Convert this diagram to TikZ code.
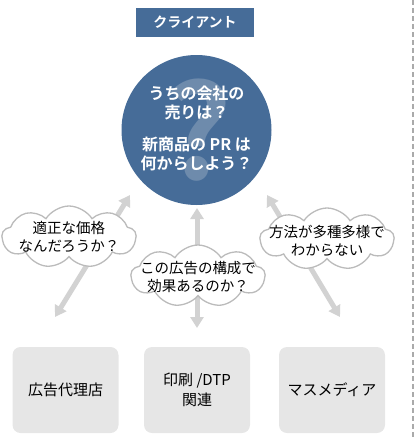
\documentclass[tikz,border=0pt]{standalone}
\usepackage{fontspec}
\setmainfont{Noto Sans CJK JP}[BoldFont={Noto Sans CJK JP Bold}]
\usetikzlibrary{shapes.symbols,arrows.meta}
\definecolor{cblue}{HTML}{466C98}
\definecolor{qmark}{HTML}{6E8BAC}
\definecolor{arrowgray}{HTML}{D2D2D2}
\definecolor{cloudline}{HTML}{BBBBBB}
\definecolor{boxfill}{HTML}{E6E6E6}
\definecolor{dashgray}{HTML}{AAAAAA}
\tikzset{
  bigarrow/.style={arrowgray, line width=5pt,
    {Triangle[width=13pt,length=11pt]}-{Triangle[width=13pt,length=11pt]}},
  thought/.style={cloud, cloud puffs=9, cloud puff arc=115, aspect=2.1, draw=cloudline, line width=1.3pt, fill=white, inner sep=0pt, minimum width=134pt, minimum height=62pt},
  thoughttext/.style={align=center, font=\fontsize{14.5}{18}\selectfont, text=black},
  target/.style={rectangle, rounded corners=8pt, fill=boxfill, minimum width=106pt, minimum height=86pt, align=center, font=\fontsize{15}{20}\selectfont},
}
\begin{document}
\begin{tikzpicture}[x=1pt,y=-1pt]
\useasboundingbox (0,0) rectangle (415,440);
% dashed border line
\coordinate (dtop) at (413,0);
\coordinate (dbot) at (413,440);
\draw[dashgray, line width=2pt, dash pattern=on 5pt off 3pt] (dtop) -- (dbot);
% title
\node[fill=cblue, minimum width=118pt, minimum height=29pt, inner sep=0pt, text=white, font=\bfseries\fontsize{14}{16}\selectfont] (title) at (195,22.5) {クライアント};
% client circle
\node[circle, fill=cblue, minimum size=150pt, inner sep=0pt] (client) at (196.5,130) {};
\node[text=qmark, font=\bfseries\fontsize{130}{130}\selectfont, inner sep=0pt] (qm) at (199,130) {?};
\node[text=white, align=center, font=\bfseries\fontsize{16}{19}\selectfont] (clienttext) at (196.5,128) {うちの会社の\\売りは？\\[13pt]新商品の PR は\\何からしよう？};
% target boxes
\node[target] (agency) at (65.5,390) {広告代理店};
\node[target] (print) at (197,390) {印刷 /DTP\\関連};
\node[target] (media) at (332,390) {マスメディア};
% arrow ends
\coordinate (la) at (130,195);
\coordinate (lb) at (55,317);
\coordinate (ma) at (197,208);
\coordinate (mb) at (197,328);
\coordinate (ra) at (267,195);
\coordinate (rb) at (340,317);
\draw[bigarrow] (la) -- (lb);
\draw[bigarrow] (ma) -- (mb);
\draw[bigarrow] (ra) -- (rb);
% clouds
\node[thought] (c1) at (69,237) {};
\node[thoughttext] (c1t) at (69,237) {適正な価格\\なんだろうか？};
\node[thought] (c2) at (198,276) {};
\node[thoughttext] (c2t) at (198,277) {この広告の構成で\\効果あるのか？};
\node[thought] (c3) at (327,239) {};
\node[thoughttext] (c3t) at (327,241) {方法が多種多様で\\わからない};
\end{tikzpicture}
\end{document}
